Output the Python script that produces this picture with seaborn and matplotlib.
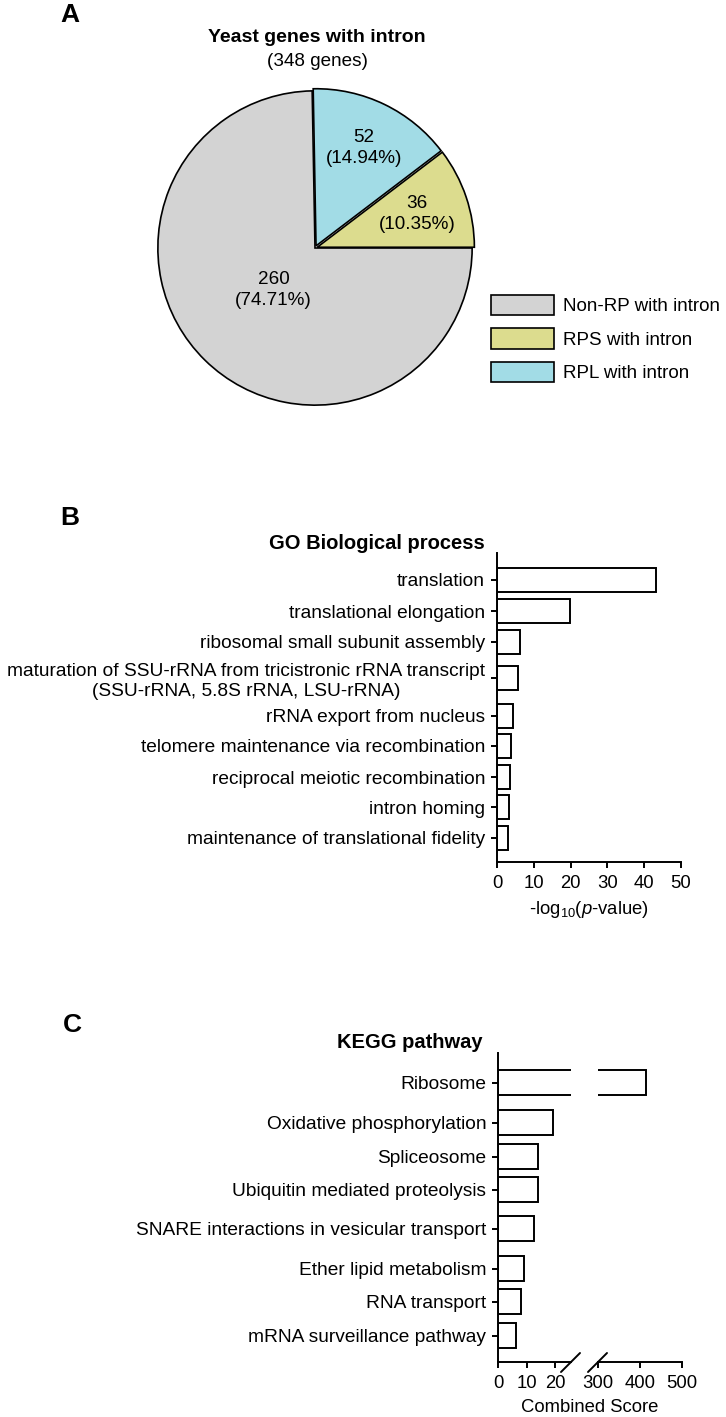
import numpy as np
import pandas as pd
import matplotlib
matplotlib.use('Agg')
import matplotlib.pyplot as plt
import seaborn as sns
from matplotlib.lines import Line2D
from matplotlib.patches import Patch

# ---------------- data ----------------
pie_labels = ['RPS with intron', 'RPL with intron', 'Non-RP with intron']
pie_counts = [36, 52, 260]
pie_pcts = ['10.35%', '14.94%', '74.71%']
pie_colors = ['#dcdc8e', '#a2dce6', '#d3d3d3']
legend_order = ['Non-RP with intron', 'RPS with intron', 'RPL with intron']

go_terms = ['translation',
            'translational elongation',
            'ribosomal small subunit assembly',
            'maturation of SSU-rRNA from tricistronic rRNA transcript\n(SSU-rRNA, 5.8S rRNA, LSU-rRNA)',
            'rRNA export from nucleus',
            'telomere maintenance via recombination',
            'reciprocal meiotic recombination',
            'intron homing',
            'maintenance of translational fidelity']
go_values = [43.2, 19.8, 6.3, 5.6, 4.3, 3.9, 3.6, 3.3, 3.1]
go_ticks = [0, 10, 20, 30, 40, 50]

kegg_terms = ['Ribosome',
              'Oxidative phosphorylation',
              'Spliceosome',
              'Ubiquitin mediated proteolysis',
              'SNARE interactions in vesicular transport',
              'Ether lipid metabolism',
              'RNA transport',
              'mRNA surveillance pathway']
kegg_values = [415, 19.2, 14.0, 14.1, 12.6, 9.0, 8.1, 6.2]
kegg_ticks_low = [0, 10, 20]
kegg_ticks_high = [300, 400, 500]

# ---------------- layout (pixels) ----------------
W, H = 726, 1417
go_rows = [0, 31, 62, 98, 136, 166, 197, 227, 258]
kegg_rows = [0, 40, 74, 107, 146, 186, 219, 253]
pie_label_r = [0.685, 0.71, 0.375]

sns.set_theme(style='ticks')
plt.rcParams['font.family'] = ['Liberation Sans', 'DejaVu Sans']
plt.rcParams['mathtext.fontset'] = 'custom'
plt.rcParams['mathtext.rm'] = 'Liberation Sans'
plt.rcParams['mathtext.it'] = 'Liberation Sans:italic'
plt.rcParams['axes.linewidth'] = 1.4
for k in ['text.color', 'axes.labelcolor', 'xtick.color', 'ytick.color',
          'xtick.labelcolor', 'ytick.labelcolor', 'axes.edgecolor']:
    plt.rcParams[k] = 'black'

FS_X = 13.3
FS_Y = 13.8
FS_T = 14.5
fig = plt.figure(figsize=(W / 100, H / 100), dpi=100)
fig.patch.set_facecolor('white')


def px_axes(l, t, r, b):
    return fig.add_axes([l / W, 1 - b / H, (r - l) / W, (b - t) / H])


def ftext(x, y, s, **kw):
    return fig.text(x / W, 1 - y / H, s, **kw)


# ---------------- Panel A : pie ----------------
axp = px_axes(150, 83, 480, 413)
wedges, _ = axp.pie(pie_counts, colors=pie_colors, startangle=0, counterclock=True,
                    explode=[0.015, 0.015, 0.0],
                    wedgeprops=dict(edgecolor='black', linewidth=1.2))
axp.set_xlim(-1.05, 1.05)
axp.set_ylim(-1.05, 1.05)
axp.set_aspect('equal')
for w, r, c, p in zip(wedges, pie_label_r, pie_counts, pie_pcts):
    th = np.deg2rad((w.theta1 + w.theta2) / 2)
    axp.text(r * np.cos(th), r * np.sin(th), f"{c}\n({p})", ha='center', va='center',
             fontsize=13.6, linespacing=1.3, color='black')

ftext(70, 15, 'A', fontsize=19, fontweight='bold', ha='center', va='center')
ftext(317, 38, 'Yeast genes with intron', fontsize=14.0, fontweight='bold', ha='center', va='center')
ftext(317, 62, '(348 genes)', fontsize=13.6, ha='center', va='center')

cmap = dict(zip(pie_labels, pie_colors))
handles = [Patch(facecolor=cmap[l], edgecolor='black', linewidth=1.2) for l in legend_order]
fig.legend(handles, legend_order, loc='upper left', bbox_to_anchor=(491 / W, 1 - 295 / H),
           frameon=False, borderpad=0, borderaxespad=0, handlelength=3.36, handleheight=1.28,
           handletextpad=0.5, labelspacing=0.69, fontsize=13.5)


def style_axes(ax):
    ax.tick_params(axis='both', direction='out', length=4, width=1.4, pad=3,
                   color='black', labelcolor='black')
    ax.tick_params(axis='x', labelsize=FS_X, pad=5.5)
    ax.tick_params(axis='y', labelsize=FS_Y, pad=4.5)
    for s in ax.spines.values():
        s.set_color('black')
        s.set_linewidth(1.4)
    sns.despine(ax=ax)


# ---------------- Panel B : GO ----------------
go_df = pd.DataFrame({'term': go_terms, 'value': go_values, 'row': go_rows})
axg = px_axes(497, 553, 681, 862)
sns.barplot(data=go_df, x='value', y='row', orient='h', native_scale=True, width=0.8,
            color='white', saturation=1, edgecolor='black', linewidth=1.4, errorbar=None, ax=axg)
axg.set_xlim(0, 50)
axg.set_ylim(282, -27)
axg.set_xticks(go_ticks)
axg.set_yticks(go_rows)
axg.set_yticklabels(go_terms)
for lab in axg.get_yticklabels():
    lab.set_multialignment('center')
axg.set_xlabel('')
axg.set_ylabel('')
style_axes(axg)
ftext(589, 909, r'-log$_{10}$($\mathit{p}$-value)', fontsize=FS_X, ha='center', va='center')
ftext(70, 518, 'B', fontsize=19, fontweight='bold', ha='center', va='center')
ftext(485, 543, 'GO Biological process', fontsize=FS_T, fontweight='bold', ha='right', va='center')

# ---------------- Panel C : KEGG (broken axis) ----------------
kegg_df = pd.DataFrame({'term': kegg_terms, 'value': kegg_values, 'row': kegg_rows})
axk1 = px_axes(498, 1053, 571, 1362)
axk2 = px_axes(598, 1053, 682, 1362)
for ax in (axk1, axk2):
    sns.barplot(data=kegg_df, x='value', y='row', orient='h', native_scale=True, width=0.76,
                color='white', saturation=1, edgecolor='black', linewidth=1.4, errorbar=None, ax=ax)
    ax.set_ylim(279.3, -29.7)
    ax.set_xlabel('')
    ax.set_ylabel('')
    style_axes(ax)
axk1.set_xlim(0, 25.6)
axk1.set_xticks(kegg_ticks_low)
axk1.set_yticks(kegg_rows)
axk1.set_yticklabels(kegg_terms)
axk2.set_xlim(300, 500)
axk2.set_xticks(kegg_ticks_high)
axk2.set_yticks([])
axk2.spines['left'].set_visible(False)

for x0 in (561, 588):
    fig.add_artist(Line2D([x0 / W, (x0 + 19) / W], [1 - 1372 / H, 1 - 1353 / H],
                          transform=fig.transFigure, color='black', linewidth=1.4))

ftext(590, 1408, 'Combined Score', fontsize=FS_X, ha='center', va='center')
ftext(72, 1025, 'C', fontsize=19, fontweight='bold', ha='center', va='center')
ftext(483, 1042, 'KEGG pathway', fontsize=FS_T, fontweight='bold', ha='right', va='center')

fig.savefig('out.png', dpi=100, facecolor='white')
